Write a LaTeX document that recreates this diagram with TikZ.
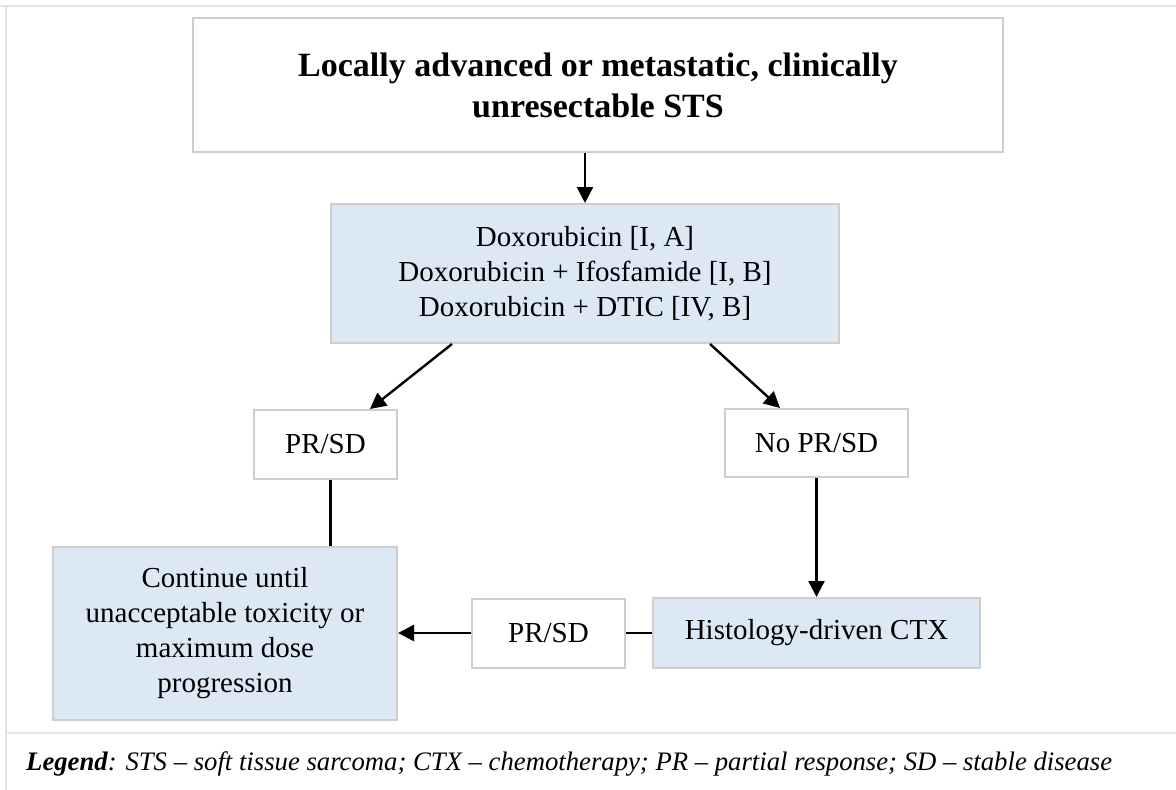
\documentclass[tikz,border=0pt]{standalone}
\usepackage{fontspec}
\setmainfont{Liberation Serif}
\usetikzlibrary{arrows.meta, calc, positioning}

\definecolor{boxblue}{RGB}{221,232,245}
\definecolor{boxgray}{RGB}{206,206,206}
\definecolor{framegray}{RGB}{228,228,228}

\newcommand\titlefont{\fontsize{34}{41}\selectfont\bfseries}
\newcommand\bodyfont{\fontsize{29}{35}\selectfont}

\begin{document}
\begin{tikzpicture}[
        x = 1pt, y = -1pt,
      box/.style = {draw=boxgray, line width=2pt, inner sep=0pt,
                    align=center, font=\bodyfont},
     bbox/.style = {box, fill=boxblue},
    arrow/.style = {line width=2.4pt, -{Triangle[width=16pt,length=16pt]}},
     link/.style = {line width=2.4pt}
                    ]
  \useasboundingbox (0,0) rectangle (1176,790);
  % frame
  \draw[framegray, line width=2pt]
        (0,6) -- (1176,6)  (6,6) -- (6,790)  (6,733) -- (1176,733);
  % boxes
  \node (start) [box, font=\titlefont, minimum width=810pt, minimum height=134pt]
        at (598,85) {Locally advanced or metastatic, clinically\\unresectable STS};
  \node (doxo)  [bbox, minimum width=508pt, minimum height=139pt]
        at (585,273.5) {Doxorubicin [I, A]\\Doxorubicin + Ifosfamide [I, B]\\Doxorubicin + DTIC [IV, B]};
  \node (resp)  [box, minimum width=143pt, minimum height=69pt]
        at (325.5,444.5) {PR/SD};
  \node (noresp) [box, minimum width=183pt, minimum height=68pt]
        at (816.5,443) {No PR/SD};
  \node (cont)  [bbox, minimum width=344pt, minimum height=173pt]
        at (225,633.5) {Continue until\\unacceptable toxicity or\\maximum dose\\progression};
  \node (histo) [bbox, minimum width=327pt, minimum height=70pt]
        at (816.5,633) {Histology-driven CTX};
  \node (resp2) [box, minimum width=153pt, minimum height=69pt]
        at (548.5,633) {PR/SD};
  % connectors
  \draw[arrow] (doxo.north |- start.south) -- (doxo.north);
  \draw[arrow] ($(doxo.south)+(-133,0)$) -- ($(resp.north)+(44.5,0)$);
  \draw[arrow] ($(doxo.south)+(125,0)$) -- ($(noresp.north)+(-36.5,0)$);
  \draw[link]  ($(resp.south)+(5,0)$) coordinate (r) -- (r |- cont.north);
  \draw[arrow] (noresp.south) -- (histo.north);
  \draw[link]  (histo.west) -- (resp2.east);
  \draw[arrow] (resp2.west) -- (resp2.west -| cont.east);
  % legend
  \node (legend) [anchor=base west, inner sep=0pt, font=\fontsize{26.7}{32}\selectfont\itshape]
        at (26,770) {\textbf{Legend}: STS -- soft tissue sarcoma; CTX -- chemotherapy; PR -- partial response; SD -- stable disease};
\end{tikzpicture}
\end{document}
